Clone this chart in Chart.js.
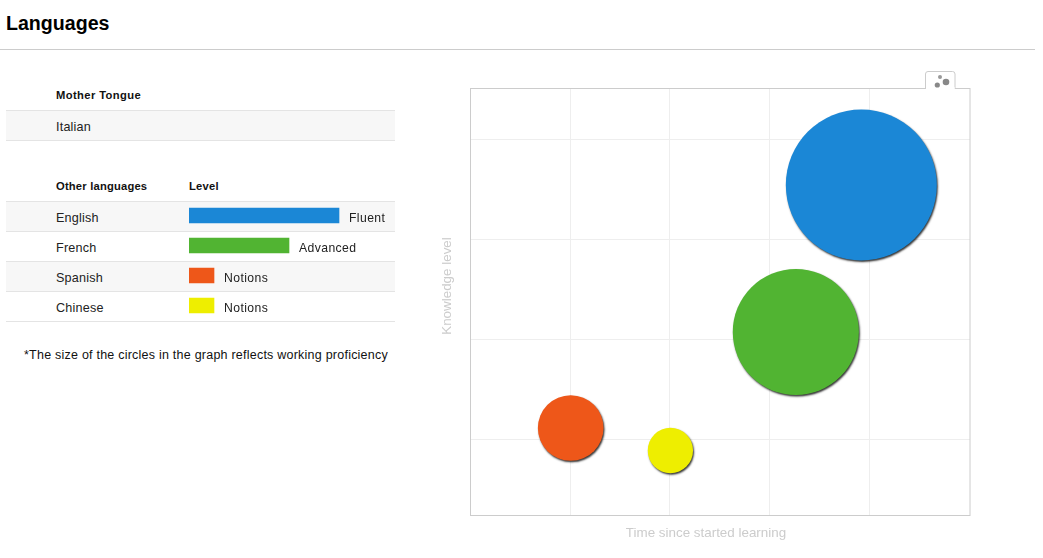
<!DOCTYPE html>
<html><head><meta charset="utf-8">
<style>
html,body{margin:0;padding:0;background:#fff;width:1043px;height:558px;overflow:hidden;font-family:"Liberation Sans",Arial,sans-serif;color:#222}
.abs{position:absolute;white-space:nowrap}
#title{left:6px;top:11px;font-size:19.6px;font-weight:bold;line-height:24px;color:#000}
#rule{left:0;top:49px;width:1035px;height:1px;background:#ccc}
.row{position:absolute;left:6px;width:389px;height:29px;border-bottom:1px solid #e4e4e4}
.row.top{border-top:1px solid #e4e4e4}
.row.alt{background:#f7f7f7}
.cell{position:absolute;left:50px;top:1px;line-height:30px;font-size:12.6px;letter-spacing:.2px;color:#222}
.head{font-size:11.2px;font-weight:bold;line-height:14px;color:#111;letter-spacing:.25px}
#note{left:24px;top:347px;font-size:12.5px;letter-spacing:.23px;line-height:16px;color:#111}
#levels{position:absolute;left:189px;top:200px;width:206px;height:121px}
#bubbles{position:absolute;left:430px;top:60px;width:613px;height:498px}
#tab{position:absolute;left:920px;top:66px}
</style></head><body>
<div class="abs" id="title">Languages</div>
<div class="abs" id="rule"></div>
<div class="abs head" style="left:56px;top:88px;letter-spacing:.4px">Mother Tongue</div>
<div class="row top alt" style="top:110px"><div class="cell">Italian</div></div>
<div class="abs head" style="left:56px;top:179px;letter-spacing:.2px">Other languages</div>
<div class="abs head" style="left:189px;top:179px">Level</div>
<div id="rows"></div>
<div class="abs" id="note">*The size of the circles in the graph reflects working proficiency</div>
<div id="levels"><canvas id="levelChart"></canvas></div>
<div id="bubbles"><canvas id="bubbleChart"></canvas></div>
<svg id="tab" width="40" height="26" viewBox="0 0 40 26">
<path d="M5.5 23V8Q5.5 5.5 8 5.5H32.5Q35 5.5 35 8V23" fill="#fff" stroke="#ccc" stroke-width="1"/>
<rect x="6" y="21" width="28.5" height="4" fill="#fff"/>
<circle cx="20" cy="11" r="2" fill="#999"/><circle cx="26" cy="16" r="3.3" fill="#888"/><circle cx="17.3" cy="19" r="2.6" fill="#888"/>
</svg>
<script src="https://cdn.jsdelivr.net/npm/chart.js@4"></script>
<script>
const languages = ["English", "French", "Spanish", "Chinese"];
const levelNames = ["Fluent", "Advanced", "Notions", "Notions"];
const levelScores = [6, 4, 1, 1];
const yearsLearning = [3.92, 3.263, 1.005, 2.005];
const knowledge = [3.305, 1.835, 0.875, 0.65];
const proficiency = [100, 83.5, 43.5, 30];
const colors = ["#1b87d6", "#51b432", "#ee5719", "#eeee00"];
const xGridValues = [1, 2, 3, 4];
const yGridValues = [0.76, 1.76, 2.76, 3.76];
const xTitle = "Time since started learning";
const yTitle = "Knowledge level";

const rowsEl = document.getElementById("rows");
languages.forEach((name, i) => {
  const r = document.createElement("div");
  r.className = "row" + (i === 0 ? " top" : "") + (i % 2 === 0 ? " alt" : "");
  r.style.top = (i === 0 ? 201 : 202 + i * 30) + "px";
  r.innerHTML = '<div class="cell">' + name + "</div>";
  rowsEl.appendChild(r);
});

Chart.defaults.animation = false;
Chart.defaults.font.family = '"Liberation Sans", Arial, sans-serif';

const barNotes = {
  id: "barNotes",
  afterDatasetsDraw(chart) {
    const { ctx } = chart;
    ctx.save();
    ctx.font = '12.2px "Liberation Sans", Arial, sans-serif';
    ctx.letterSpacing = "0.4px";
    ctx.fillStyle = "#222";
    ctx.textBaseline = "middle";
    chart.getDatasetMeta(0).data.forEach((bar, i) => {
      ctx.fillText(levelNames[i], bar.x + 10, bar.y + 3.5);
    });
    ctx.restore();
  }
};

new Chart(document.getElementById("levelChart"), {
  type: "bar",
  plugins: [barNotes],
  data: { labels: languages, datasets: [{ data: levelScores, backgroundColor: colors, barThickness: 15, borderWidth: 0 }] },
  options: {
    indexAxis: "y", responsive: true, maintainAspectRatio: false,
    layout: { padding: { top: 0.5, bottom: 0.5, left: 0, right: 0 } },
    plugins: { legend: { display: false }, tooltip: { enabled: false } },
    scales: {
      x: { display: false, min: 0, max: 8.24 },
      y: { display: false }
    }
  }
});

const plotDecor = {
  id: "plotDecor",
  beforeDatasetsDraw(chart) {
    const { ctx, chartArea: a } = chart;
    ctx.save();
    ctx.strokeStyle = "#ccc"; ctx.lineWidth = 1;
    ctx.strokeRect(a.left, a.top, a.right - a.left, a.bottom - a.top);
    ctx.restore();
  },
  afterDraw(chart) {
    const { ctx, chartArea: a } = chart;
    ctx.save();
    ctx.font = '13.4px "Liberation Sans", Arial, sans-serif';
    ctx.fillStyle = "#ccc";
    ctx.textAlign = "center"; ctx.textBaseline = "middle";
    ctx.fillText(xTitle, a.left + 235.5, a.bottom + 18);
    ctx.translate(a.left - 23.5, a.top + 197.5);
    ctx.rotate(-Math.PI / 2);
    ctx.fillText(yTitle, 0, 0);
    ctx.restore();
  },
  beforeDatasetDraw(chart) {
    const { ctx } = chart;
    ctx.save();
    ctx.shadowColor = "rgba(0,0,0,0.8)";
    ctx.shadowBlur = 2;
    ctx.shadowOffsetX = 1;
    ctx.shadowOffsetY = 1.5;
  },
  afterDatasetDraw(chart) { chart.ctx.restore(); }
};

const gridScale = (values, min, max) => ({
  type: "linear", min, max,
  afterBuildTicks(scale) { scale.ticks = values.map(value => ({ value })); },
  ticks: { display: false },
  grid: { color: "#eeeeee", drawTicks: false },
  border: { display: false }
});

new Chart(document.getElementById("bubbleChart"), {
  type: "bubble",
  plugins: [plotDecor],
  data: {
    labels: languages,
    datasets: [{
      data: languages.map((name, i) => ({ x: yearsLearning[i], y: knowledge[i], size: proficiency[i] })),
      backgroundColor: colors,
      borderWidth: 0,
      clip: false,
      radius: ctx => ctx.raw.size * 0.755
    }]
  },
  options: {
    responsive: true, maintainAspectRatio: false,
    layout: { autoPadding: false, padding: { left: 40.5, top: 28.5, right: 73, bottom: 42.5 } },
    plugins: { legend: { display: false }, tooltip: { enabled: false } },
    scales: { x: gridScale(xGridValues, 0, 5.01), y: gridScale(yGridValues, 0, 4.27) }
  }
});
</script>
</body></html>
